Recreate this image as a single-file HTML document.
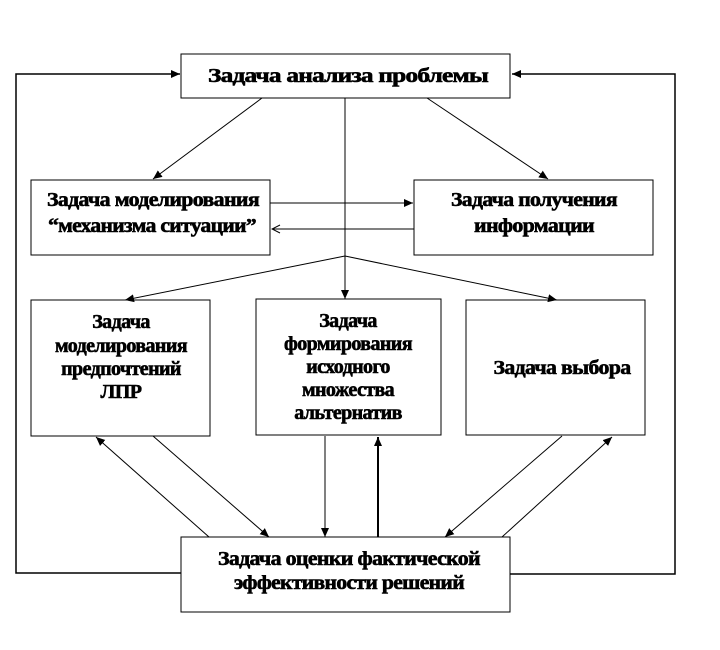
<!DOCTYPE html>
<html><head><meta charset="utf-8"><style>
body{margin:0;background:#fff;width:720px;height:645px;overflow:hidden}
svg text{font-family:"Liberation Serif",serif;font-weight:bold;font-size:20px;text-anchor:middle;letter-spacing:-0.6px;stroke:#000;stroke-width:0.6px}
</style></head><body>
<svg width="720" height="645" viewBox="0 0 720 645">
<defs><marker id="a" markerWidth="10" markerHeight="10" refX="9" refY="5" orient="auto" markerUnits="userSpaceOnUse"><path d="M0,1 L9,5 L0,9 Z" fill="#000"/></marker>
<marker id="o" markerWidth="10" markerHeight="10" refX="9" refY="5" orient="auto" markerUnits="userSpaceOnUse"><path d="M1,1 L9,5 L1,9" fill="none" stroke="#000"/></marker></defs>
<g fill="none" stroke="#000" stroke-width="1">
<rect x="181" y="54" width="329" height="44"/>
<rect x="31" y="180" width="239" height="75"/>
<rect x="414" y="180" width="239" height="75"/>
<rect x="31" y="300" width="179" height="136"/>
<rect x="256" y="299" width="185" height="136"/>
<rect x="466" y="300" width="179" height="135"/>
<rect x="181" y="537" width="329" height="75"/>
<polyline points="181,573 16,573 16,74 180,74" stroke-width="1.5" marker-end="url(#a)"/>
<polyline points="510,574 675,574 675,74 512,74" stroke-width="1.5" marker-end="url(#a)"/>
<line x1="345" y1="98" x2="345" y2="299" marker-end="url(#a)"/>
<line x1="345" y1="256" x2="125" y2="300" marker-end="url(#a)"/>
<line x1="345" y1="256" x2="557" y2="300" marker-end="url(#a)"/>
<line x1="262" y1="98" x2="153" y2="179" marker-end="url(#a)"/>
<line x1="427" y1="98" x2="548" y2="179" marker-end="url(#a)"/>
<line x1="270" y1="203" x2="413" y2="203" marker-end="url(#a)"/>
<line x1="414" y1="229" x2="272" y2="229" marker-end="url(#o)"/>
<line x1="209" y1="537" x2="96" y2="437" marker-end="url(#a)"/>
<line x1="153" y1="436" x2="269" y2="537" marker-end="url(#a)"/>
<line x1="325" y1="436" x2="325" y2="537" marker-end="url(#a)"/>
<line x1="378" y1="537" x2="378" y2="437" stroke-width="2" marker-end="url(#a)"/>
<line x1="562" y1="436" x2="445" y2="537" marker-end="url(#a)"/>
<line x1="502" y1="537" x2="612" y2="437" marker-end="url(#a)"/>
</g>
<text x="348" y="82" textLength="280" lengthAdjust="spacingAndGlyphs">Задача анализа проблемы</text>
<text x="153" y="206" textLength="212" lengthAdjust="spacingAndGlyphs">Задача моделирования</text>
<text x="152" y="232" textLength="208" lengthAdjust="spacingAndGlyphs">“механизма ситуации”</text>
<text x="534" y="206" textLength="166" lengthAdjust="spacingAndGlyphs">Задача получения</text>
<text x="534" y="232" textLength="120" lengthAdjust="spacingAndGlyphs">информации</text>
<text x="121" y="328">Задача</text>
<text x="121" y="352">моделирования</text>
<text x="121" y="375">предпочтений</text>
<text x="121" y="398">ЛПР</text>
<text x="348" y="327">Задача</text>
<text x="348" y="350">формирования</text>
<text x="348" y="373">исходного</text>
<text x="348" y="396">множества</text>
<text x="348" y="419">альтернатив</text>
<text x="562" y="374" textLength="137" lengthAdjust="spacingAndGlyphs">Задача выбора</text>
<text x="349" y="565" textLength="262" lengthAdjust="spacingAndGlyphs">Задача оценки фактической</text>
<text x="349" y="589" textLength="230" lengthAdjust="spacingAndGlyphs">эффективности решений</text>
</svg>
</body></html>
